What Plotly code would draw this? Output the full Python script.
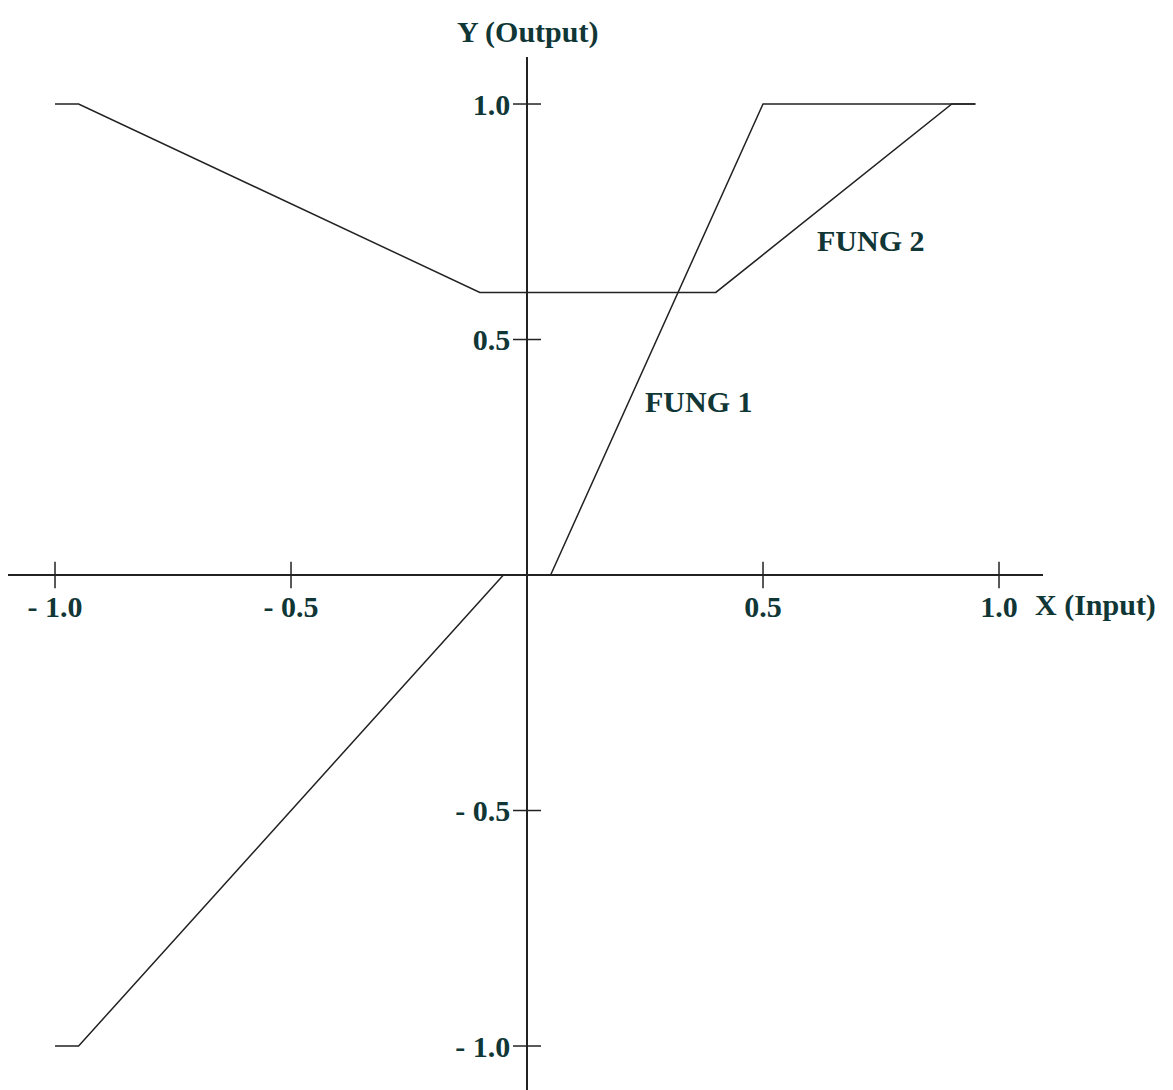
import plotly.graph_objects as go

# Piecewise-linear transfer functions (input -> output)
fung1_x = [-1.0, -0.95, -0.05, 0.05, 0.5, 0.95]
fung1_y = [-1.0, -1.0, 0.0, 0.0, 1.0, 1.0]

fung2_x = [-1.0, -0.95, -0.1, 0.4, 0.9, 0.95]
fung2_y = [1.0, 1.0, 0.6, 0.6, 1.0, 1.0]

x_ticks = [-1.0, -0.5, 0.5, 1.0]
x_tick_labels = ["- 1.0", "- 0.5", "0.5", "1.0"]
y_ticks = [1.0, 0.5, -0.5, -1.0]
y_tick_labels = ["1.0", "0.5", "- 0.5", "- 1.0"]

W, H = 1173, 1090
FONT = "Liberation Serif"
TXT = "#103636"
INK = "#222222"
FS = 30

x_range = [-1.0996, 1.0932]
y_range = [-1.0934, 1.0998]
x_dom = [8 / W, 1043 / W]
y_dom = [0.0, 1033 / H]

# paper positions of the origin, used to cross the axes at (0, 0)
x0_paper = x_dom[0] + (0 - x_range[0]) / (x_range[1] - x_range[0]) * (x_dom[1] - x_dom[0])
y0_paper = y_dom[0] + (0 - y_range[0]) / (y_range[1] - y_range[0]) * (y_dom[1] - y_dom[0])

fig = go.Figure()

fig.add_trace(go.Scatter(x=fung1_x, y=fung1_y, mode="lines",
                         line=dict(color=INK, width=1.5), hoverinfo="skip"))
fig.add_trace(go.Scatter(x=fung2_x, y=fung2_y, mode="lines",
                         line=dict(color=INK, width=1.5), hoverinfo="skip"))

# tick marks that cross the axis lines
fig.add_trace(go.Scatter(x=x_ticks, y=[0] * len(x_ticks), mode="markers",
                         marker=dict(symbol="line-ns", size=19,
                                     line=dict(color=INK, width=1.5)),
                         hoverinfo="skip"))
fig.add_trace(go.Scatter(x=[0] * len(y_ticks), y=y_ticks, mode="markers",
                         marker=dict(symbol="line-ew", size=20,
                                     line=dict(color=INK, width=1.5)),
                         hoverinfo="skip"))

tick_font = dict(family=FONT, size=FS, color=TXT, weight="bold")

fig.update_layout(
    width=W, height=H,
    margin=dict(l=0, r=0, t=0, b=0),
    paper_bgcolor="white", plot_bgcolor="white",
    showlegend=False,
    xaxis=dict(domain=x_dom, range=x_range, anchor="free", position=y0_paper,
               showline=True, linecolor=INK, linewidth=1.5,
               showgrid=False, zeroline=False,
               tickvals=x_ticks, ticktext=x_tick_labels,
               ticks="outside", ticklen=5, tickcolor="rgba(0,0,0,0)",
               tickfont=tick_font),
    yaxis=dict(domain=y_dom, range=y_range, anchor="free", position=x0_paper,
               showline=True, linecolor=INK, linewidth=1.5,
               showgrid=False, zeroline=False,
               tickvals=y_ticks, ticktext=y_tick_labels,
               ticks="outside", ticklen=10, tickcolor="rgba(0,0,0,0)",
               tickfont=tick_font),
)

ann_font = dict(family=FONT, size=FS, color=TXT, weight="bold")
fig.add_annotation(x=0, xref="x", y=(H - 32) / H, yref="paper",
                   text="Y (Output)", showarrow=False, font=ann_font,
                   xanchor="center", yanchor="middle")
fig.add_annotation(x=1033 / W, xref="paper", y=0, yref="y", yshift=-30,
                   text="X (Input)", showarrow=False, font=ann_font,
                   xanchor="left", yanchor="middle")
fig.add_annotation(x=0.61, y=0.711, text="FUNG 2", showarrow=False,
                   font=ann_font, xanchor="left", yanchor="middle")
fig.add_annotation(x=0.246, y=0.369, text="FUNG 1", showarrow=False,
                   font=ann_font, xanchor="left", yanchor="middle")

fig.write_html("out.html")
